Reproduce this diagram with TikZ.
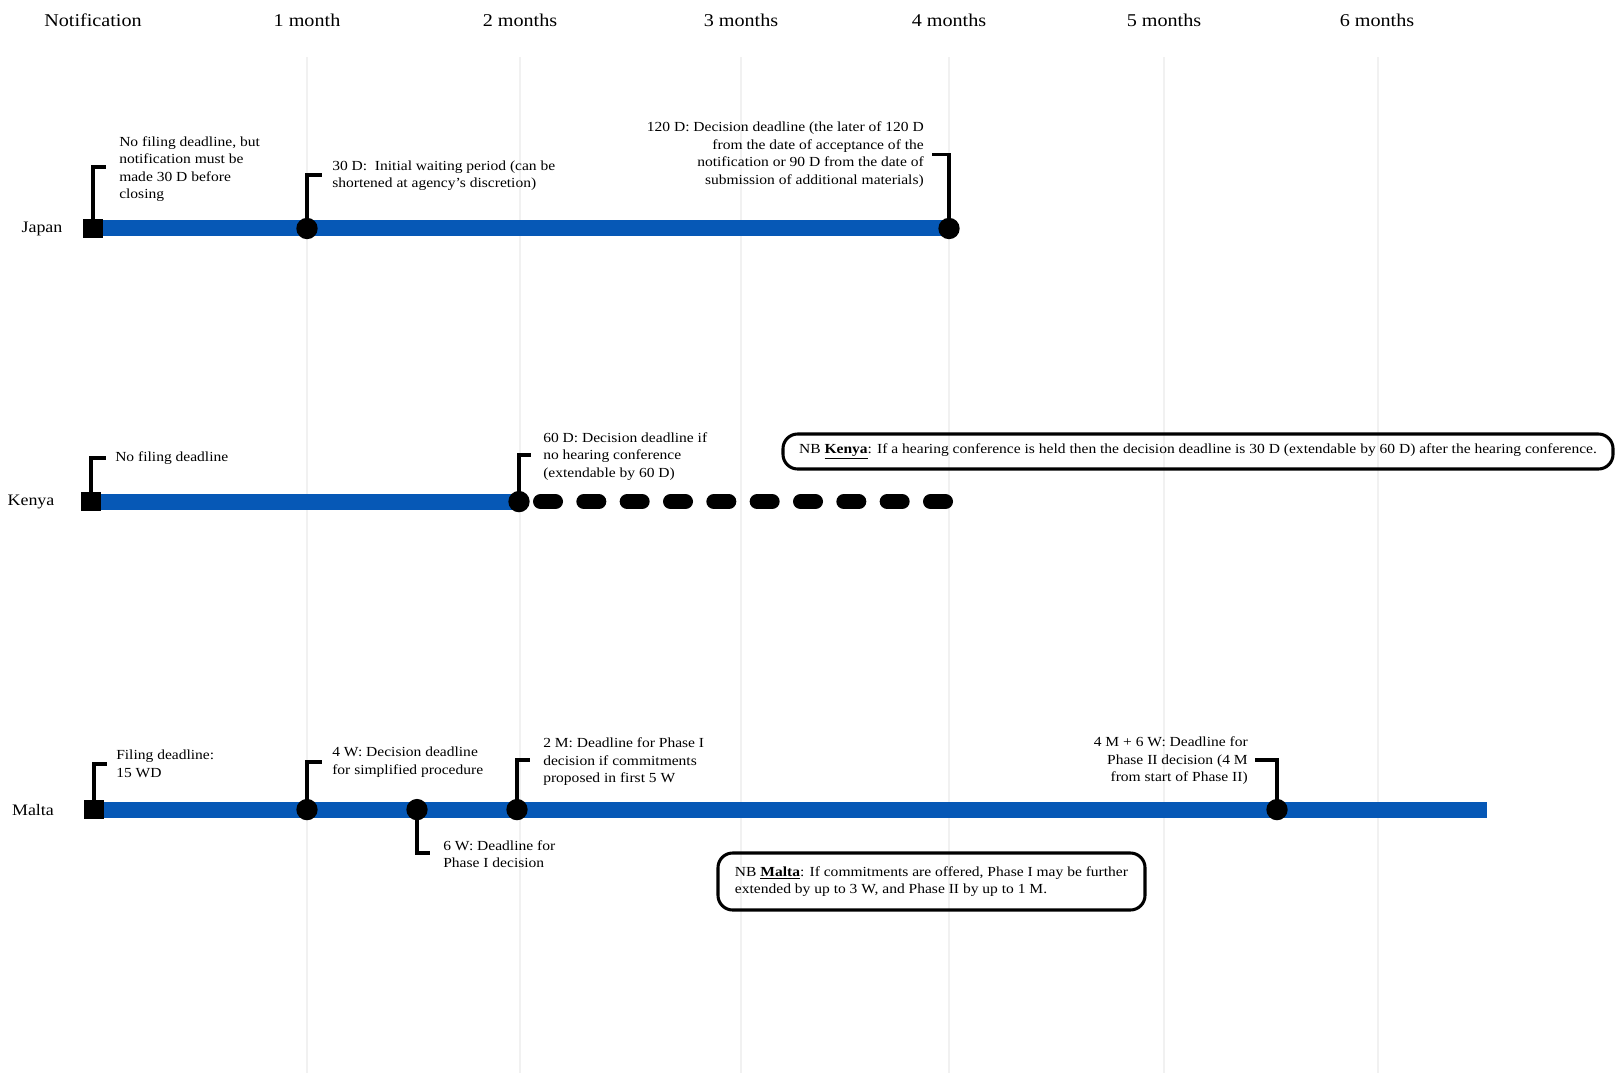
\documentclass[tikz,border=0pt]{standalone}
\usepackage{fontspec}
\setmainfont{Liberation Serif}[FakeStretch=1.12]
\definecolor{barblue}{RGB}{6,88,182}
\definecolor{gridgray}{RGB}{241,241,241}
\begin{document}
\begin{tikzpicture}[x=0.75pt,y=-0.75pt,
  gridline/.style={draw=gridgray,line width=1.1pt},
  head/.style={font=\fontsize{13.5}{16}\selectfont,inner sep=0pt},
  rowlabel/.style={font=\fontsize{12}{14}\selectfont,inner sep=0pt},
  bar/.style={draw=barblue,line width=12pt},
  ext/.style={draw=black,line width=11.25pt,line cap=round,dash pattern=on 11.25pt off 21.25pt},
  callout/.style={draw=black,line width=2.3pt},
  sqmark/.style={rectangle,fill=black,minimum size=14.5pt,inner sep=0pt},
  dotmark/.style={circle,fill=black,minimum size=16pt,inner sep=0pt},
  note/.style={font=\fontsize{10.4}{13.1}\selectfont,inner sep=0pt,align=left},
  noter/.style={note,align=right},
  nbbox/.style={draw=black,line width=2.3pt,rounded corners=11pt,inner sep=0pt,
    font=\fontsize{10.4}{13.1}\selectfont,align=left}
]
\useasboundingbox (0,0) rectangle (1615,1073);

% month grid
\foreach \gx in {307,520,741,949,1164,1378}
  \draw[gridline] (\gx,57) -- (\gx,1073);

% column headings
\node[head] (hN) at (93,20.6) {Notification};
\node[head] (h1) at (307,20.6) {1 month};
\node[head] (h2) at (520,20.6) {2 months};
\node[head] (h3) at (741,20.6) {3 months};
\node[head] (h4) at (949,20.6) {4 months};
\node[head] (h5) at (1164,20.6) {5 months};
\node[head] (h6) at (1377,20.6) {6 months};

% row labels
\node[rowlabel] (lJ) at (42,229) {Japan};
\node[rowlabel] (lK) at (31,502) {Kenya};
\node[rowlabel] (lM) at (33,810) {Malta};

% ---------------- Japan ----------------
\coordinate (jp0) at (93,228.5);
\coordinate (jp1) at (307,228.5);
\coordinate (jp2) at (949,228.5);
\draw[bar] (jp0) -- (jp2);
\coordinate (jp0t) at (106,167);
\coordinate (jp1t) at (322,175);
\coordinate (jp2t) at (932,154.5);
\draw[callout] (jp0) |- (jp0t);
\draw[callout] (jp1) |- (jp1t);
\draw[callout] (jp2) |- (jp2t);
\node[sqmark] (jpm0) at (jp0) {};
\node[dotmark] (jpm1) at (jp1) {};
\node[dotmark] (jpm2) at (jp2) {};
\node[note,anchor=west] (jpn0) at (119,169)
  {No filing deadline, but\\notification must be\\made 30 D before\\closing};
\node[note,anchor=west] (jpn1) at (332,175.5)
  {30 D:\ \ Initial waiting period (can be\\shortened at agency's discretion)};
\node[noter,anchor=east] (jpn2) at (924,154.5)
  {120 D: Decision deadline (the later of 120 D\\from the date of acceptance of the\\notification or 90 D from the date of\\submission of additional materials)};

% ---------------- Kenya ----------------
\coordinate (kn0) at (91,501.6);
\coordinate (kn1) at (519,501.6);
\draw[bar] (kn0) -- (kn1);
\coordinate (knds) at (540.5,501.6);
\coordinate (knde) at (946,501.6);
\draw[ext] (knds) -- (knde);
\coordinate (kn0t) at (106,458);
\coordinate (kn1t) at (531,455);
\draw[callout] (kn0) |- (kn0t);
\draw[callout] (kn1) |- (kn1t);
\node[sqmark] (knm0) at (kn0) {};
\node[dotmark] (knm1) at (kn1) {};
\node[note,anchor=west] (knn0) at (115,458.5) {No filing deadline};
\node[note,anchor=west] (knn1) at (543,456.5)
  {60 D: Decision deadline if\\no hearing conference\\(extendable by 60 D)};
\node[nbbox,minimum width=622.5pt,minimum height=26.25pt,align=center] (knnb) at (1198,451.5)
  {NB \underline{\textbf{Kenya}}: If a hearing conference is held then the decision deadline is 30 D (extendable by 60 D) after the hearing conference.};

% ---------------- Malta ----------------
\coordinate (mt0) at (94,809.6);
\coordinate (mt1) at (307,809.6);
\coordinate (mt2) at (417,809.6);
\coordinate (mt3) at (517,809.6);
\coordinate (mt4) at (1277,809.6);
\coordinate (mtend) at (1487,809.6);
\draw[bar] (mt0) -- (mtend);
\coordinate (mt0t) at (107,764);
\coordinate (mt1t) at (322,762);
\coordinate (mt2t) at (430,853);
\coordinate (mt3t) at (530,760);
\coordinate (mt4t) at (1255,760);
\draw[callout] (mt0) |- (mt0t);
\draw[callout] (mt1) |- (mt1t);
\draw[callout] (mt2) |- (mt2t);
\draw[callout] (mt3) |- (mt3t);
\draw[callout] (mt4) |- (mt4t);
\node[sqmark] (mtm0) at (mt0) {};
\node[dotmark] (mtm1) at (mt1) {};
\node[dotmark] (mtm2) at (mt2) {};
\node[dotmark] (mtm3) at (mt3) {};
\node[dotmark] (mtm4) at (mt4) {};
\node[note,anchor=west] (mtn0) at (116,764) {Filing deadline:\\15 WD};
\node[note,anchor=west] (mtn1) at (332,762) {4 W: Decision deadline\\for simplified procedure};
\node[note,anchor=west] (mtn2) at (443,854) {6 W: Deadline for\\Phase I decision};
\node[note,anchor=west] (mtn3) at (543,762)
  {2 M: Deadline for Phase I\\decision if commitments\\proposed in first 5 W};
\node[noter,anchor=east] (mtn4) at (1248,761)
  {4 M + 6 W: Deadline for\\Phase II decision (4 M\\from start of Phase II)};
\node[nbbox,minimum width=320.25pt,minimum height=42.75pt] (mtnb) at (931.5,881.5)
  {NB \underline{\textbf{Malta}}: If commitments are offered, Phase I may be further\\extended by up to 3 W, and Phase II by up to 1 M.};
\end{tikzpicture}
\end{document}
